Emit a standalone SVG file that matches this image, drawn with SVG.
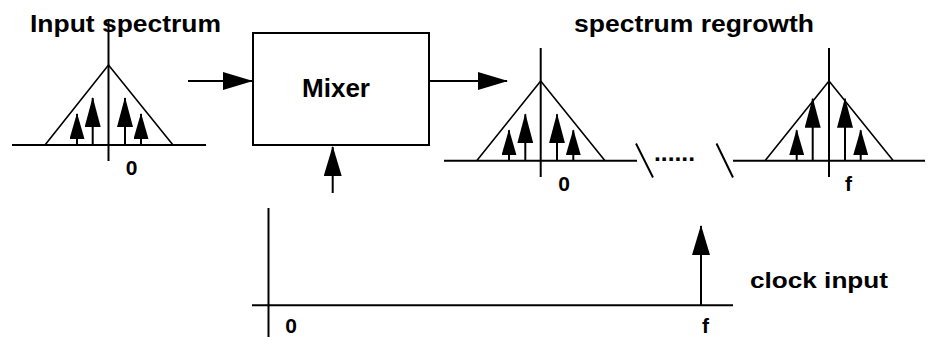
<svg xmlns="http://www.w3.org/2000/svg" width="929" height="337" viewBox="0 0 929 337">
<style>
  .ln { stroke: #000; stroke-width: 2; fill: none; }
  .tri { stroke: #000; stroke-width: 1.6; fill: none; stroke-linejoin: miter; }
  .lbl { font-family: "Liberation Sans", Arial, sans-serif; font-weight: bold; fill: #000; }
  .title { font-size: 23px; }
  .axis { font-size: 21px; }
  .stem { stroke: #000; stroke-width: 2; fill: none; }
  .sm { marker-end: url(#hs); }
  .tl { marker-end: url(#ht); }
  .conn { stroke: #000; stroke-width: 2; fill: none; marker-end: url(#big); }
</style>
<defs>
  <marker id="big" markerUnits="userSpaceOnUse" viewBox="0 0 30 18" markerWidth="30" markerHeight="18" refX="29" refY="9" orient="auto">
    <path d="M0,0 L30,9 L0,18 z" fill="#000"/>
  </marker>
  <marker id="hs" markerUnits="userSpaceOnUse" viewBox="0 0 26 15" markerWidth="26" markerHeight="15" refX="25" refY="7.5" orient="auto">
    <path d="M0,0 L26,7.5 L0,15 z" fill="#000"/>
  </marker>
  <marker id="ht" markerUnits="userSpaceOnUse" viewBox="0 0 30 16" markerWidth="30" markerHeight="16" refX="29" refY="8" orient="auto">
    <path d="M0,0 L30,8 L0,16 z" fill="#000"/>
  </marker>
</defs>
<rect width="929" height="337" fill="#fff"/>

<g id="input-spectrum">
  <text class="lbl title" x="30" y="32" textLength="191" lengthAdjust="spacingAndGlyphs">Input spectrum</text>
  <line class="ln" x1="108.5" y1="20" x2="108.5" y2="161"/>
  <line class="ln" x1="12" y1="145" x2="206" y2="145"/>
  <polyline class="tri" points="45,145 108.5,65 173,145"/>
  <line class="stem sm" x1="77" y1="145" x2="77" y2="114"/>
  <line class="stem tl" x1="92.7" y1="145" x2="92.7" y2="98"/>
  <line class="stem tl" x1="125" y1="145" x2="125" y2="98"/>
  <line class="stem sm" x1="141" y1="145" x2="141" y2="114"/>
  <text class="lbl axis" x="131.5" y="175" text-anchor="middle">0</text>
</g>

<g id="mixer">
  <rect x="253" y="33" width="176" height="112" fill="#fff" stroke="#000" stroke-width="2"/>
  <text class="lbl" x="302" y="97" font-size="26" textLength="68" lengthAdjust="spacingAndGlyphs">Mixer</text>
</g>

<g id="spectrum-regrowth">
  <text class="lbl title" x="574" y="32" textLength="240" lengthAdjust="spacingAndGlyphs">spectrum regrowth</text>
  <line class="ln" x1="540.7" y1="48" x2="540.7" y2="177"/>
  <line class="ln" x1="444" y1="160.7" x2="637" y2="160.7"/>
  <polyline class="tri" points="476.7,160.7 540.7,81 605,160.7"/>
  <line class="stem sm" x1="509" y1="160.7" x2="509" y2="130.3"/>
  <line class="stem tl" x1="525.3" y1="160.7" x2="525.3" y2="114.3"/>
  <line class="stem tl" x1="557" y1="160.7" x2="557" y2="114.3"/>
  <line class="stem sm" x1="573.3" y1="160.7" x2="573.3" y2="130.3"/>
  <text class="lbl axis" x="564" y="191" text-anchor="middle">0</text>
  <line class="ln" x1="636" y1="143.5" x2="653" y2="177.5" stroke-width="1.6"/>
  <text class="lbl" x="654" y="161" font-size="23" textLength="41" lengthAdjust="spacingAndGlyphs">......</text>
  <line class="ln" x1="716.5" y1="143.5" x2="733" y2="177.5" stroke-width="1.6"/>
  <line class="ln" x1="733" y1="160.7" x2="925" y2="160.7"/>
  <line class="ln" x1="829" y1="48" x2="829" y2="177"/>
  <polyline class="tri" points="765,160.7 829,81 893.3,160.7"/>
  <line class="stem sm" x1="796.7" y1="160.7" x2="796.7" y2="130.3"/>
  <line class="stem tl" x1="812.7" y1="160.7" x2="812.7" y2="98.7"/>
  <line class="stem tl" x1="845" y1="160.7" x2="845" y2="98.7"/>
  <line class="stem sm" x1="860.7" y1="160.7" x2="860.7" y2="130.3"/>
  <text class="lbl axis" x="848.5" y="191" text-anchor="middle">f</text>
</g>

<g id="clock-input">
  <line class="ln" x1="268.5" y1="208" x2="268.5" y2="337"/>
  <line class="ln" x1="252" y1="305.3" x2="733" y2="305.3"/>
  <line class="conn" x1="701" y1="305.3" x2="701" y2="226"/>
  <text class="lbl axis" x="291" y="333" text-anchor="middle">0</text>
  <text class="lbl axis" x="705.5" y="333" text-anchor="middle">f</text>
  <text class="lbl" x="750" y="287.5" font-size="22" textLength="138" lengthAdjust="spacingAndGlyphs">clock input</text>
</g>

<g id="connectors">
  <line class="conn" x1="188" y1="81" x2="252" y2="81"/>
  <line class="conn" x1="429" y1="81" x2="507" y2="81"/>
  <line class="conn" x1="332.7" y1="193" x2="332.7" y2="147"/>
</g>
</svg>
